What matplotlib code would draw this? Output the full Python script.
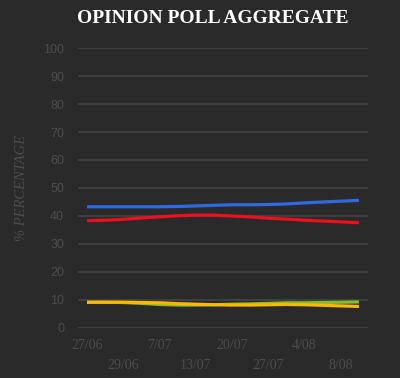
import numpy as np
import matplotlib.pyplot as plt

# 16 poll dates, only every other one is labelled on the axis
dates = ['27/06', '28/06', '29/06', '3/07', '7/07', '10/07', '13/07', '16/07',
         '20/07', '23/07', '27/07', '31/07', '4/08', '6/08', '8/08', '10/08']
blue = [43.3, 43.3, 43.3, 43.3, 43.3, 43.4, 43.6, 43.8,
        44.0, 44.0, 44.1, 44.3, 44.7, 45.0, 45.3, 45.6]
red = [38.3, 38.5, 38.8, 39.3, 39.7, 40.1, 40.3, 40.3,
       40.0, 39.7, 39.2, 38.9, 38.5, 38.2, 37.9, 37.6]
green = [9.2, 9.2, 9.1, 8.8, 8.4, 8.2, 8.2, 8.3,
         8.5, 8.6, 8.8, 9.0, 9.0, 9.1, 9.2, 9.3]
yellow = [9.2, 9.2, 9.2, 9.1, 9.0, 8.7, 8.5, 8.3,
          8.2, 8.2, 8.3, 8.4, 8.3, 8.1, 7.9, 7.7]

bg = '#2a2a2a'
txt = '#4d4d4d'

fig = plt.figure(figsize=(4.0, 3.78), dpi=100, facecolor=bg)
ax = fig.add_axes([0.195, 0.1323, 0.725, 0.7407], facecolor=bg)

x = np.arange(len(dates))
ax.plot(x, blue, color='#2f6be0', lw=2.3, solid_capstyle='butt')
ax.plot(x, red, color='#ec1020', lw=2.3, solid_capstyle='butt')
ax.plot(x, green, color='#86bc2c', lw=2.3, solid_capstyle='butt')
ax.plot(x, yellow, color='#fdb800', lw=2.3, solid_capstyle='butt')

ax.set_xlim(-0.5, len(dates) - 0.5)
ax.set_ylim(0, 100)
ax.set_yticks(np.arange(0, 101, 10))
ax.grid(axis='y', color='#444444', lw=1.2)
ax.set_axisbelow(True)
for s in ax.spines.values():
    s.set_visible(False)
ax.tick_params(axis='y', length=0, pad=10, labelcolor=txt, labelsize=9)
for lab in ax.get_yticklabels():
    lab.set_family('Liberation Sans')

# two staggered rows of date labels
ax.set_xticks([])
for i in range(0, len(dates), 2):
    row = (i // 2) % 2
    ax.text(i, -6.2 - row * 7.2, dates[i], ha='center', va='center',
            color=txt, fontsize=10, family='Liberation Serif',
            transform=ax.transData, clip_on=False)

ax.set_ylabel('% PERCENTAGE', color=txt, fontsize=10.5, style='italic',
              family='Liberation Serif', labelpad=11)

fig.text(0.532, 0.950, 'OPINION POLL AGGREGATE', ha='center', va='center',
         color='white', fontsize=14, fontweight='bold', family='Liberation Serif')

fig.savefig('out.png', dpi=100, facecolor=bg)
